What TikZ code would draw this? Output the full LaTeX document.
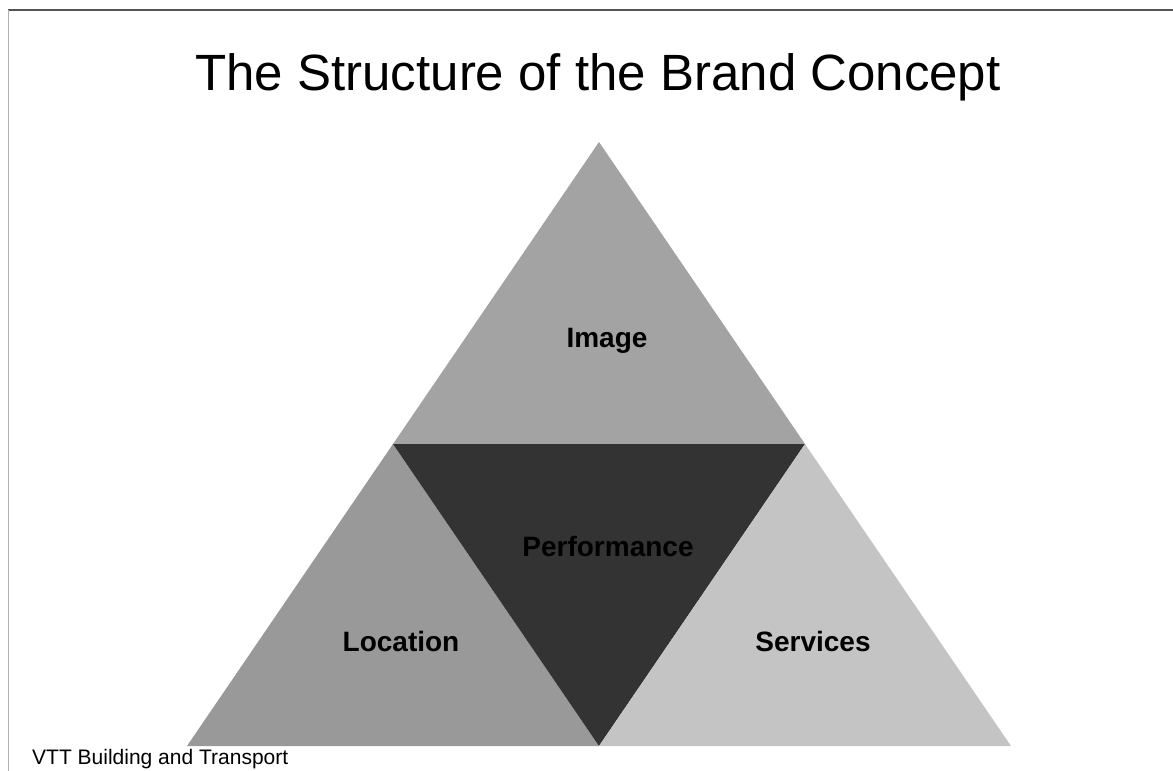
\documentclass[tikz,border=0pt]{standalone}
\usepackage{fontspec}
\setmainfont{Liberation Sans}
\usetikzlibrary{positioning}

\definecolor{imagegray}{HTML}{A3A3A3}
\definecolor{locgray}{HTML}{999999}
\definecolor{perfgray}{HTML}{333333}
\definecolor{servgray}{HTML}{C4C4C4}
\definecolor{rulegray}{HTML}{555555}
\definecolor{edgegray}{HTML}{B0B0B0}

\begin{document}
\begin{tikzpicture}[x=1pt, y=-1pt,
    part/.style={font=\fontsize{28}{32}\selectfont\bfseries, text=black, inner sep=0pt}]
  \useasboundingbox (0,0) rectangle (1173,771);

  % The frame of the slide
  \coordinate (tl) at (8,10);
  \coordinate (tr) at (1173,10);
  \coordinate (bl) at (8,771);
  \draw [rulegray, line width=2pt] (tl) -- (tr);
  \draw [edgegray, line width=1pt] (tl) -- (bl);

  % The apex of the big triangle
  \coordinate (top) at (599,142);
  % The left corner at mid height
  \coordinate (ml) at (393,444);
  % The right corner at mid height
  \coordinate (mr) at (805,444);
  % The bottom left corner
  \coordinate (bll) at (187,746);
  % The bottom middle
  \coordinate (bm) at (599,746);
  % The bottom right corner
  \coordinate (brr) at (1011,746);

  % The four triangles
  \fill [imagegray] (top) -- (ml) -- (mr) -- cycle;
  \fill [locgray] (ml) -- (bll) -- (bm) -- cycle;
  \fill [perfgray] (ml) -- (mr) -- (bm) -- cycle;
  \fill [servgray] (mr) -- (brr) -- (bm) -- cycle;

  % The title
  \node [font=\fontsize{51}{56}\selectfont, anchor=base] (title) at (598,90) {The Structure of the Brand Concept};

  % The parts of the concept
  \node [part] (image) at (607,341) {Image};
  \node [part] (perf) at (608,546) {Performance};
  \node [part] (loc) at (401,641) {Location};
  \node [part] (serv) at (813,641) {Services};

  % The footer
  \node [font=\fontsize{21}{24}\selectfont, anchor=base west, inner sep=0pt] (footer) at (32,764) {VTT Building and Transport};
\end{tikzpicture}
\end{document}
